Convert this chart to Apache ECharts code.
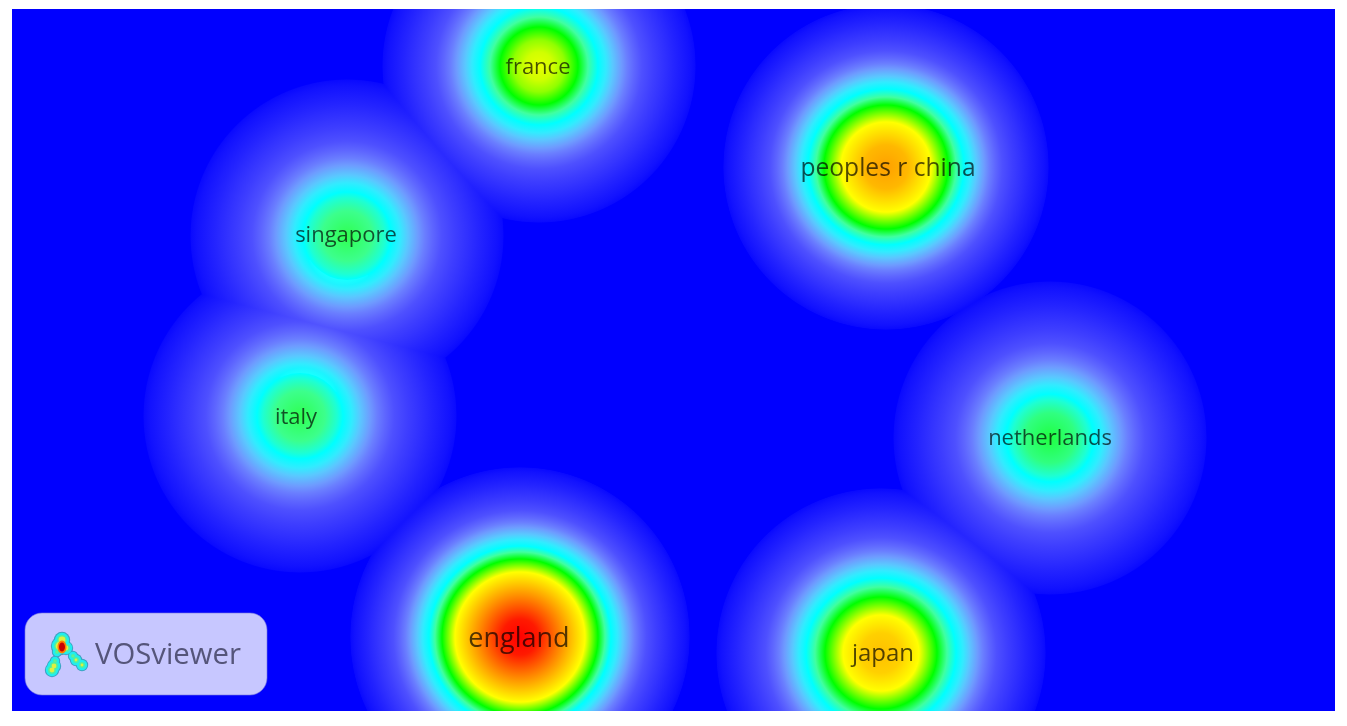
<!DOCTYPE html>
<html><head><meta charset="utf-8">
<style>html,body{margin:0;padding:0;background:#fff}#c{width:1347px;height:726px}</style>
<script src="https://cdn.jsdelivr.net/npm/echarts@6/dist/echarts.min.js"></script>
</head><body><div id="c"></div>
<script>
// Density peaks (axis units = reference pixels)
const countries = ['france','peoples r china','singapore','italy','netherlands','england','japan'];
const blobX = [539,886,347,300,1050,520,881];
const blobY = [66,167,236,416,438,637,653];
const reach = [157,163,157,157,157,170,165];
const labelX = [538,888,346,296,1050,519,883];
const labelY = [68,169,236,418,439,639,654];
const labelSize = [22,24.6,22,22,22,27,24];
// colour rings: [radius, colour] going outward to the cyan ring
const ringsFrance = [[0,'#e8ff00'],[14,'#d0ff00'],[26,'#90ff00'],[39,'#00ff00'],[49,'#40ffa0'],[59,'#00ffff']];
const ringsChina = [[0,'#ffa000'],[22,'#ffb800'],[45,'#ffff00'],[62,'#00ff00'],[70,'#40ffa0'],[78,'#00ffff']];
const ringsSingapore = [[0,'#30ff50'],[25,'#3cff8c'],[38,'#1effd2'],[44,'#00ffff']];
const ringsItaly = [[0,'#30ff50'],[25,'#3cff8c'],[37,'#1effd2'],[43,'#00ffff']];
const ringsNetherlands = [[0,'#20ff40'],[25,'#30ff80'],[38,'#1effd2'],[44,'#00ffff']];
const ringsEngland = [[0,'#ff0000'],[18,'#ff1a00'],[42,'#ff9000'],[65,'#ffff00'],[78,'#00ff00'],[85,'#40ffa0'],[91,'#00ffff']];
const ringsJapan = [[0,'#ffc000'],[20,'#ffd000'],[38,'#ffff00'],[56,'#00ff00'],[66,'#40ffa0'],[75,'#00ffff']];
const rings = [ringsFrance,ringsChina,ringsSingapore,ringsItaly,ringsNetherlands,ringsEngland,ringsJapan];
// falloff from the cyan ring to the kernel edge: [fraction of the way, red, green]
const tail = [[0.08,50,235],[0.15,90,200],[0.24,110,155],[0.30,106,126],[0.37,94,102],[0.45,78,80],
  [0.57,62,62],[0.78,36,36],[0.94,18,18],[0.99,10,10],[1,0,0]];

// wide halo: cyan up to the ring, then the falloff (opaque, merged by 'lighten')
function haloGradient(i){
  const R = reach[i], r = rings[i], rc = r[r.length-1][0];
  const stops = [{offset:0,color:'#00ffff'},{offset:rc/R,color:'#00ffff'}];
  tail.forEach(t=>stops.push({offset:(rc+t[0]*(R-rc))/R,color:'rgb('+t[1]+','+t[2]+',255)'}));
  return {type:'radial',x:0.5,y:0.5,r:0.5,colorStops:stops};
}
// hot core painted above the halo, out to the cyan ring
function coreGradient(i){
  const r = rings[i], rc = r[r.length-1][0];
  return {type:'radial',x:0.5,y:0.5,r:0.5,colorStops:r.map(s=>({offset:s[0]/rc,color:s[1]}))};
}

const logoCircles = [[62,640,7],[60,646,8],[66,648,6],[57,652,4],[55,661,4],[54,666,6],[52,670,6],[73,656,4],[76,660,5],[82,665,5]];
const logoLayers = [[1.2,'#3f9fc0'],[0.2,'#20eeee'],[-2,'#50f0a0'],[-3.6,'#e0f040']];
const edgeBands = [[0,0,1347,9],[0,711,1347,15],[0,0,12,726],[1335,0,12,726]];
const logoGraphic = edgeBands.map(b=>({type:'rect',shape:{x:b[0],y:b[1],width:b[2],height:b[3]},style:{fill:'#ffffff'}}));
logoGraphic.push({type:'rect',shape:{x:25,y:613,width:242,height:82,r:17},
  style:{fill:'rgba(255,255,255,0.78)',stroke:'rgba(120,120,220,0.6)',lineWidth:1}});
logoLayers.forEach(l=>logoCircles.forEach(c=>{
  if(c[2]+l[0]>0) logoGraphic.push({type:'circle',shape:{cx:c[0],cy:c[1],r:c[2]+l[0]},style:{fill:l[1]}});
}));
logoGraphic.push({type:'ellipse',shape:{cx:62,cy:647,rx:4.5,ry:6.5},style:{fill:'#ff8000'}});
logoGraphic.push({type:'ellipse',shape:{cx:62,cy:647,rx:3,ry:4.6},style:{fill:'#c80000'}});
logoGraphic.push({type:'text',style:{x:95,y:656,text:'VOSviewer',fill:'#55557a',
  font:'29.3px "Open Sans"',textAlign:'left',textVerticalAlign:'middle'}});

const chart = echarts.init(document.getElementById('c'),null,{renderer:'canvas'});
chart.setOption({
  animation:false,
  backgroundColor:'#ffffff',
  grid:{left:12,top:9,width:1323,height:702,show:true,backgroundColor:'#0000ff',borderWidth:0},
  xAxis:{type:'value',min:12,max:1335,show:false},
  yAxis:{type:'value',min:9,max:711,inverse:true,show:false},
  tooltip:{show:false},
  graphic:logoGraphic.map(g=>Object.assign({z:100},g)),
  series:[
    {type:'scatter',silent:true,clip:true,z:2,blendMode:'lighten',
     data:countries.map((n,i)=>({name:n,value:[blobX[i],blobY[i]],symbolSize:reach[i]*2,
       itemStyle:{color:haloGradient(i),opacity:1}}))},
    {type:'scatter',silent:true,clip:true,z:3,
     data:countries.map((n,i)=>({name:n,value:[blobX[i],blobY[i]],symbolSize:rings[i][rings[i].length-1][0]*2,
       itemStyle:{color:coreGradient(i),opacity:1}}))},
    {type:'scatter',silent:true,clip:false,z:4,symbolSize:1,itemStyle:{color:'rgba(0,0,0,0)'},
     data:countries.map((n,i)=>({name:n,value:[labelX[i],labelY[i]],
       label:{show:true,position:'inside',formatter:n,fontFamily:'Open Sans',fontSize:labelSize[i],
         color:'rgba(0,0,0,0.85)'}}))}
  ]
});
</script></body></html>
